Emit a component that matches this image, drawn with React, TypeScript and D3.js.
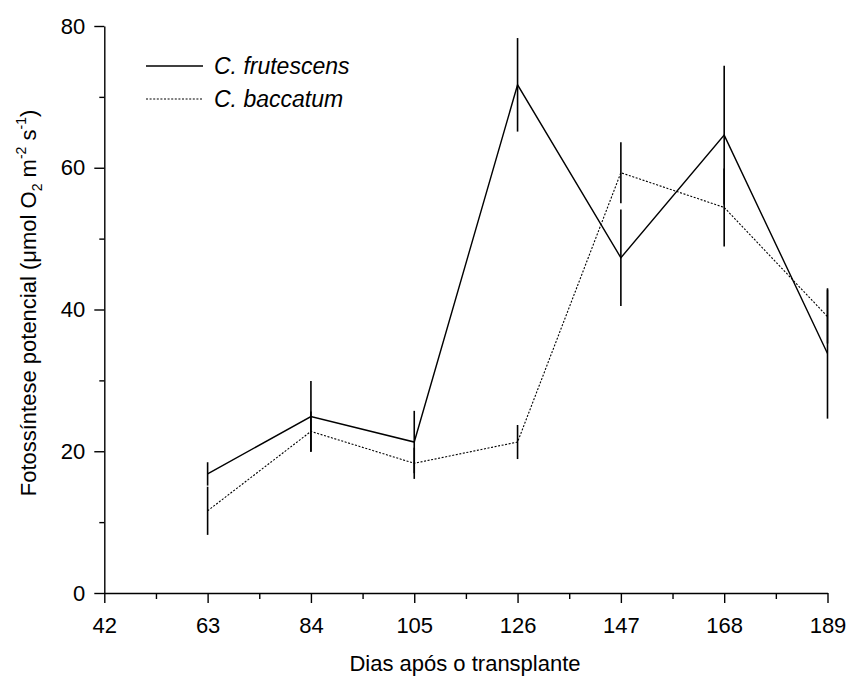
import React, { useEffect, useRef } from "react";
import * as d3 from "d3";

// days after transplant
const days = [63, 84, 105, 126, 147, 168, 189];
// C. frutescens: mean and error
const frutescens = [16.8, 24.9, 21.3, 71.7, 47.3, 64.6, 33.8];
const frutescensErr = [1.65, 5.0, 4.4, 6.6, 6.8, 9.8, 9.2];
// C. baccatum: mean and error
const baccatum = [11.6, 22.8, 18.3, 21.3, 59.3, 54.4, 39.0];
const baccatumErr = [3.4, 2.8, 2.2, 2.4, 4.3, 5.5, 3.8];

const xTicks = [42, 63, 84, 105, 126, 147, 168, 189];
const xMinor = [52.5, 73.5, 94.5, 115.5, 136.5, 157.5, 178.5];
const yTicks = [0, 20, 40, 60, 80];
const yMinor = [10, 30, 50, 70];

const font = "'Liberation Sans', Arial, Helvetica, sans-serif";

export default function App() {
  const ref = useRef<SVGSVGElement>(null);

  useEffect(() => {
    const svg = d3.select(ref.current);
    svg.selectAll("*").remove();

    const x = d3.scaleLinear().domain([42, 189]).range([104.3, 827.5]);
    const y = d3.scaleLinear().domain([0, 80]).range([593, 26]);

    // x axis
    const gx = svg.append("g").attr("transform", "translate(0," + y(0) + ")");
    gx.call(
      d3.axisBottom(x).tickValues(xTicks).tickSize(10).tickSizeOuter(0).tickPadding(14)
    );
    gx.append("g").call(
      d3.axisBottom(x).tickValues(xMinor).tickSize(6).tickFormat(() => "")
    ).select(".domain").remove();

    // y axis
    const gy = svg.append("g").attr("transform", "translate(" + x(42) + ",0)");
    gy.call(
      d3.axisLeft(y).tickValues(yTicks).tickSize(10).tickSizeOuter(0).tickPadding(9)
    );
    gy.append("g").call(
      d3.axisLeft(y).tickValues(yMinor).tickSize(5).tickFormat(() => "")
    ).select(".domain").remove();

    svg.selectAll(".tick line").attr("stroke", "#000").attr("stroke-width", 1.4);
    svg.selectAll(".domain").attr("stroke", "#000").attr("stroke-width", 1.4);
    svg.selectAll(".tick text")
      .attr("font-family", font)
      .attr("font-size", 22)
      .attr("fill", "#000");

    const series = [
      { vals: frutescens, err: frutescensErr, dash: null },
      { vals: baccatum, err: baccatumErr, dash: "2,1.6" },
    ];

    const line = d3
      .line<number>()
      .x((d, i) => x(days[i]))
      .y(d => y(d));

    series.forEach(s => {
      // error bars
      svg
        .append("g")
        .selectAll("line")
        .data(s.vals)
        .enter()
        .append("line")
        .attr("x1", (d, i) => x(days[i]))
        .attr("x2", (d, i) => x(days[i]))
        .attr("y1", (d, i) => y(d - s.err[i]))
        .attr("y2", (d, i) => y(d + s.err[i]))
        .attr("stroke", "#000")
        .attr("stroke-width", 1.6);

      svg
        .append("path")
        .attr("d", line(s.vals))
        .attr("fill", "none")
        .attr("stroke", "#000")
        .attr("stroke-width", s.dash ? 1.1 : 1.4)
        .attr("stroke-dasharray", s.dash);
    });

    // legend
    const legend = [
      { name: "C. frutescens", dash: null, yy: 66 },
      { name: "C. baccatum", dash: "2,1.6", yy: 99 },
    ];
    legend.forEach(l => {
      svg
        .append("line")
        .attr("x1", 146)
        .attr("x2", 203)
        .attr("y1", l.yy)
        .attr("y2", l.yy)
        .attr("stroke", "#000")
        .attr("stroke-width", l.dash ? 1.1 : 1.4)
        .attr("stroke-dasharray", l.dash);
      svg
        .append("text")
        .attr("x", 214)
        .attr("y", l.yy + 8)
        .attr("font-family", font)
        .attr("font-size", 23)
        .attr("font-style", "italic")
        .text(l.name);
    });

    // x label
    svg
      .append("text")
      .attr("x", 465)
      .attr("y", 671)
      .attr("text-anchor", "middle")
      .attr("font-family", font)
      .attr("font-size", 22)
      .text("Dias após o transplante");

    // y label
    const yl = svg
      .append("text")
      .attr("transform", "translate(36,303) rotate(-90)")
      .attr("text-anchor", "middle")
      .attr("font-family", font)
      .attr("font-size", 22);
    yl.append("tspan").text("Fotossíntese potencial (μmol O");
    yl.append("tspan").attr("font-size", 14).attr("dy", 6).text("2");
    yl.append("tspan").attr("dy", -6).text(" m");
    yl.append("tspan").attr("font-size", 14).attr("dy", -10).text("-2");
    yl.append("tspan").attr("dy", 10).text(" s");
    yl.append("tspan").attr("font-size", 14).attr("dy", -10).text("-1");
    yl.append("tspan").attr("dy", 10).text(")");
  }, []);

  return (
    <div>
      <style>{"body{margin:0}"}</style>
      <svg ref={ref} width={851} height={679} style={{ display: "block", background: "#fff" }} />
    </div>
  );
}
